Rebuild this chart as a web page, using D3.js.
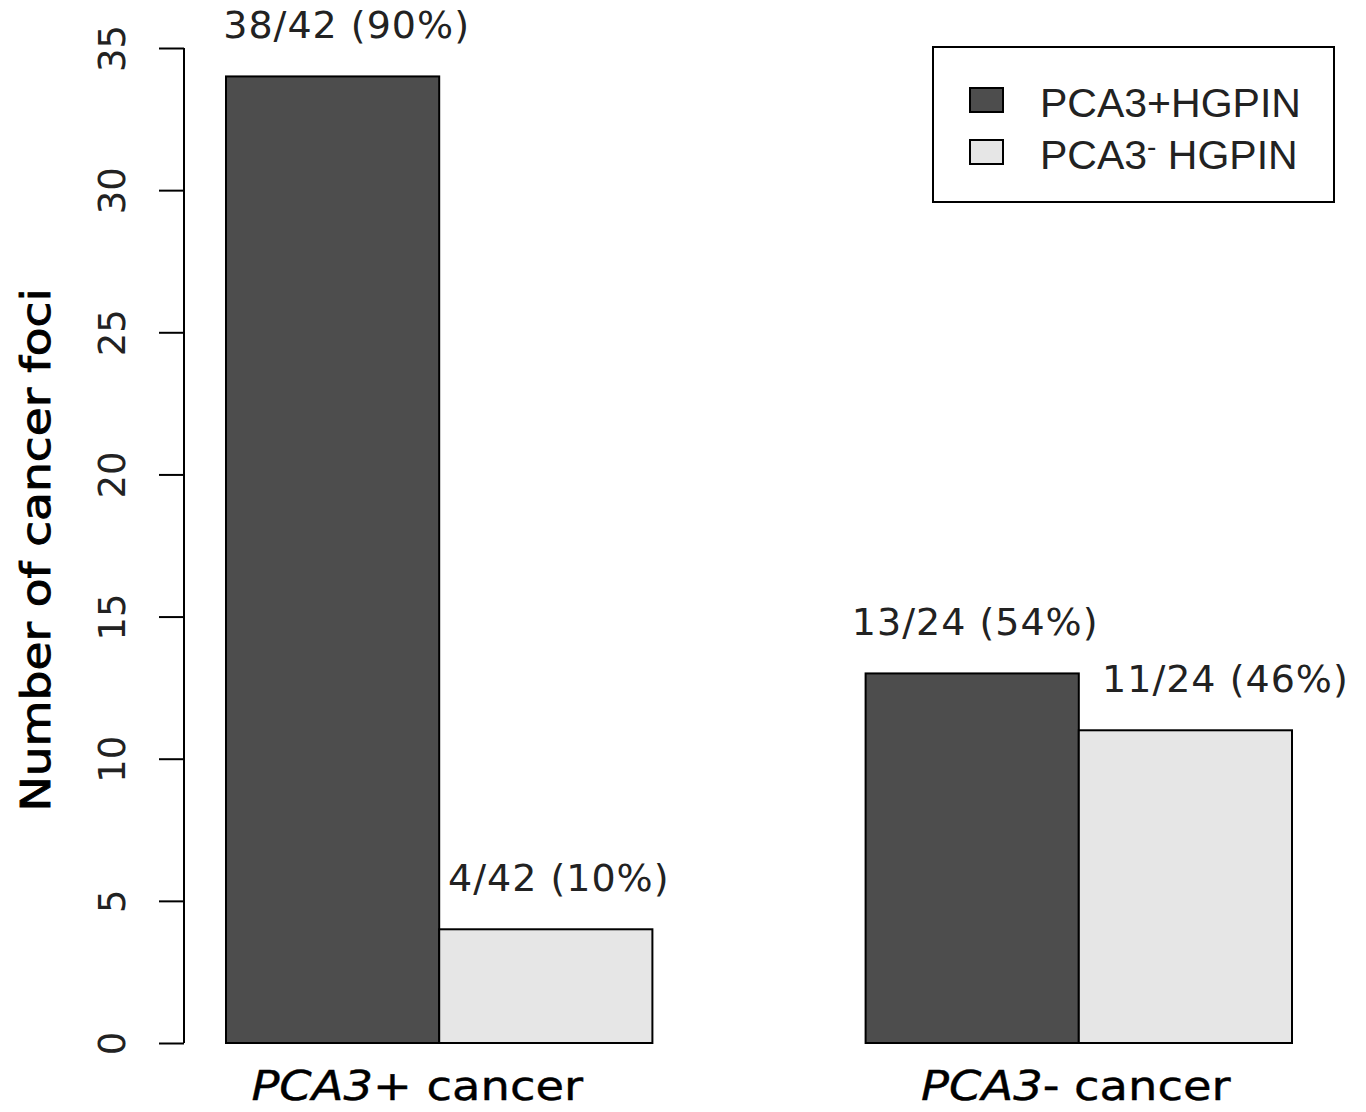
<!DOCTYPE html>
<html>
<head>
<meta charset="utf-8">
<script src="https://cdn.jsdelivr.net/npm/d3@7"></script>
<style>
  body { margin: 0; background: #fff; }
  svg { display: block; font-family: "DejaVu Sans", Verdana, sans-serif; }
</style>
</head>
<body>
<svg id="chart"></svg>
<script>
// Data
const categories = ["PCA3+", "PCA3-"];
const series = ["PCA3+HGPIN", "PCA3- HGPIN"];
const posHgpin = [34, 13];
const negHgpin = [4, 11];
const posLabels = ["38/42 (90%)", "13/24 (54%)"];
const negLabels = ["4/42 (10%)", "11/24 (46%)"];
const yTicks = [0, 5, 10, 15, 20, 25, 30, 35];
const colors = ["#4d4d4d", "#e6e6e6"];

function createBarChart() {
  const width = 1366, height = 1112;
  const svg = d3.select("#chart")
    .attr("width", width)
    .attr("height", height);

  const x0 = d3.scaleBand()
    .domain(categories)
    .range([226, 1292])
    .paddingInner(1 / 3)
    .paddingOuter(0);

  const x1 = d3.scaleBand()
    .domain(series)
    .range([0, x0.bandwidth()]);

  const y = d3.scaleLinear()
    .domain([0, 35])
    .range([1043, 48]);

  // rows: one per category, each with both series
  const rows = categories.map((c, i) => ({
    cat: c,
    bars: [
      { s: series[0], v: posHgpin[i], lab: posLabels[i], fill: colors[0] },
      { s: series[1], v: negHgpin[i], lab: negLabels[i], fill: colors[1] }
    ]
  }));

  const groups = svg.selectAll("g.grp")
    .data(rows)
    .enter().append("g")
    .attr("class", "grp")
    .attr("transform", d => `translate(${x0(d.cat)},0)`);

  groups.selectAll("rect")
    .data(d => d.bars)
    .enter().append("rect")
    .attr("x", d => x1(d.s))
    .attr("y", d => y(d.v))
    .attr("width", x1.bandwidth())
    .attr("height", d => y(0) - y(d.v))
    .attr("fill", d => d.fill)
    .attr("stroke", "#000")
    .attr("stroke-width", 2);

  // count labels sit a bit off-centre in the original
  const labelDx = [[14, 13], [3, 40]];
  groups.each(function (d, gi) {
    d3.select(this).selectAll("text.cnt")
      .data(d.bars)
      .enter().append("text")
      .attr("class", "cnt")
      .attr("x", (b, si) => x1(b.s) + x1.bandwidth() / 2 + labelDx[gi][si])
      .attr("y", b => y(b.v) - 38)
      .attr("text-anchor", "middle")
      .attr("font-size", 38)
      .attr("letter-spacing", 1)
      .attr("fill", "#222")
      .text(b => b.lab);
  });

  // y axis
  const yAxis = svg.append("g")
    .attr("transform", "translate(184,0)")
    .call(d3.axisLeft(y).tickValues(yTicks).tickSize(25).tickSizeOuter(0));
  yAxis.attr("font-family", null).attr("font-size", null);
  yAxis.select(".domain").attr("stroke", "#000").attr("stroke-width", 2)
    .attr("d", `M0,${y(0)}V${y(35)}`);
  yAxis.selectAll(".tick line").attr("stroke", "#000").attr("stroke-width", 2);
  yAxis.selectAll(".tick text")
    .attr("x", null).attr("dy", null)
    .attr("transform", "translate(-59,0) rotate(-90)")
    .attr("text-anchor", "middle")
    .attr("font-size", 37)
    .attr("fill", "#222");

  // the original type is a little wider than DejaVu, so stretch it along the line
  svg.append("text")
    .attr("transform", `translate(50,${550}) rotate(-90) scale(1.15,1)`)
    .attr("text-anchor", "middle")
    .attr("font-size", 41)
    .attr("fill", "#000")
    .attr("stroke", "#000")
    .attr("stroke-width", 0.9)
    .text("Number of cancer foci");

  // category labels, gene name in italics
  const catDx = [-22, -3];
  const catText = svg.selectAll("text.cat")
    .data(categories)
    .enter().append("text")
    .attr("class", "cat")
    .attr("transform", (d, i) =>
      `translate(${x0(d) + x0.bandwidth() / 2 + catDx[i]},1100) scale(1.16,1)`)
    .attr("text-anchor", "middle")
    .attr("font-size", 40)
    .attr("fill", "#000")
    .attr("stroke", "#000")
    .attr("stroke-width", 0.4);
  catText.append("tspan").attr("font-style", "italic").text(d => d.slice(0, 4));
  catText.append("tspan").text(d => d.slice(4) + " cancer");

  // legend
  const leg = svg.append("g");
  leg.append("rect")
    .attr("x", 933).attr("y", 47)
    .attr("width", 401).attr("height", 155)
    .attr("fill", "#fff").attr("stroke", "#000").attr("stroke-width", 2);
  const items = leg.selectAll("g.item")
    .data(series)
    .enter().append("g")
    .attr("class", "item")
    .attr("transform", (d, i) => `translate(970,${88 + i * 52})`);
  items.append("rect")
    .attr("width", 33).attr("height", 24)
    .attr("fill", (d, i) => colors[i])
    .attr("stroke", "#000").attr("stroke-width", 2);
  const lt = items.append("text")
    .attr("x", 70).attr("y", 29)
    .attr("font-family", "'Liberation Sans', Arial, sans-serif")
    .attr("font-size", 41)
    .attr("fill", "#222");
  lt.each(function (d) {
    const t = d3.select(this);
    if (d.includes("- ")) {
      t.append("tspan").text("PCA3");
      t.append("tspan").attr("dy", -13).attr("font-size", 28).text("-");
      t.append("tspan").attr("dy", 13).text(" HGPIN");
    } else {
      t.text(d);
    }
  });
}

createBarChart();
</script>
</body>
</html>
